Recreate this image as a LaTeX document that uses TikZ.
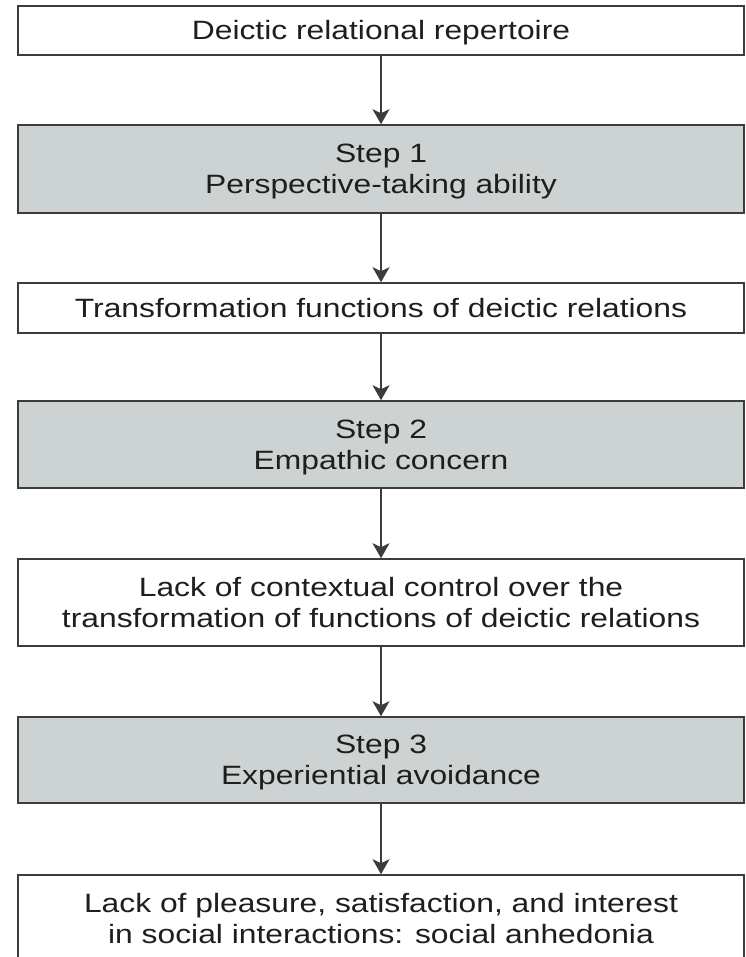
\documentclass[tikz,border=0pt]{standalone}
\usepackage{fontspec}
\setmainfont{Liberation Sans}[FakeStretch=1.2]
\usetikzlibrary{arrows.meta}
\definecolor{stepfill}{RGB}{205,211,211}
\definecolor{edgegray}{RGB}{60,60,60}
\definecolor{inkcol}{RGB}{30,30,30}
% zero-width struts that balance each box's text on its capital height
\newcommand\hstrut{\rule{0pt}{0.966em}}
\newcommand\dstrut{\rule[-0.25em]{0pt}{0.25em}}
\begin{document}
\begin{tikzpicture}[x=1pt,y=-1pt,
  box/.style={draw=edgegray, line width=1.6pt, fill=white, text=inkcol,
    minimum width=726pt, align=center, inner sep=0pt,
    font=\fontsize{26.5}{31}\selectfont},
  stepbox/.style={box, fill=stepfill},
  flow/.style={draw=edgegray, line width=1.5pt,
    -{Stealth[length=15pt,width=17pt,inset=4pt]}}
]
\clip (0,0) rectangle (745,957);
\fill[white] (0,0) rectangle (745,957);

\node[box, minimum height=49pt] (b1) at (381,30.5)
  {\hstrut Deictic relational repertoire\dstrut};
\node[stepbox, minimum height=88pt] (b2) at (381,169)
  {\hstrut Step 1\\Perspective-taking ability\dstrut};
\node[box, minimum height=50pt] (b3) at (381,308)
  {\hstrut Transformation functions of deictic relations\dstrut};
\node[stepbox, minimum height=87pt] (b4) at (381,444.5)
  {\hstrut Step 2\\Empathic concern\dstrut};
\node[box, minimum height=87pt] (b5) at (381,602.5)
  {\hstrut Lack of contextual control over the\\transformation of functions of deictic relations\dstrut};
\node[stepbox, minimum height=86pt] (b6) at (381,760)
  {\hstrut Step 3\\Experiential avoidance\dstrut};
\node[box, minimum height=87pt] (b7) at (381,918.5)
  {\hstrut Lack of pleasure, satisfaction, and interest\\in social interactions: social anhedonia\dstrut};

\draw[flow] (b1) -- (b2);
\draw[flow] (b2) -- (b3);
\draw[flow] (b3) -- (b4);
\draw[flow] (b4) -- (b5);
\draw[flow] (b5) -- (b6);
\draw[flow] (b6) -- (b7);
\end{tikzpicture}
\end{document}
